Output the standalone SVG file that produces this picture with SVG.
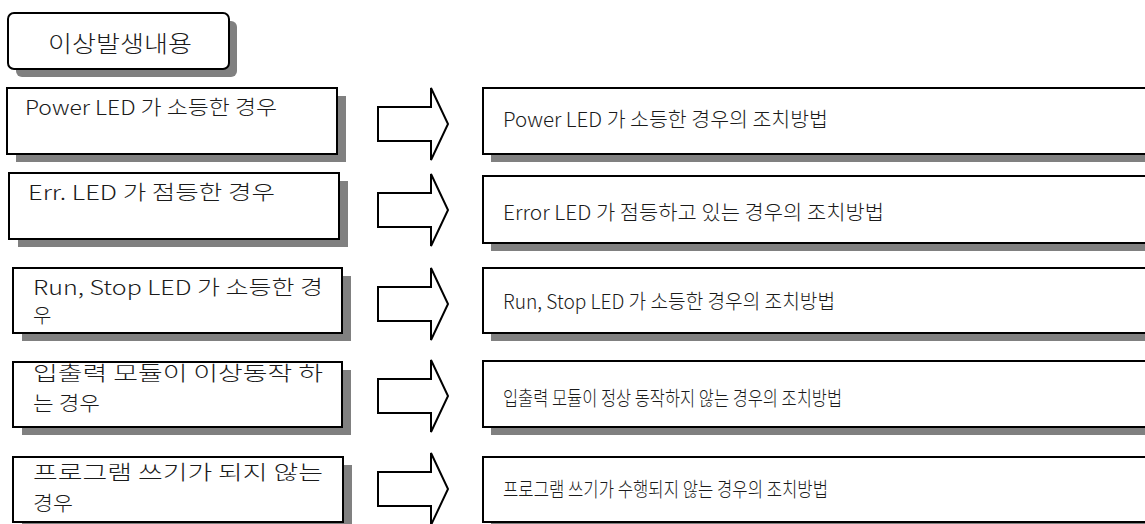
<svg xmlns="http://www.w3.org/2000/svg" width="1145" height="524" viewBox="0 0 1145 524">
<style>
.box{fill:#fff;stroke:#000;stroke-width:2}
.sh{fill:#808080}
.arrow{fill:#fff;stroke:#000;stroke-width:2;stroke-linejoin:miter}
text{font-family:"Noto Sans CJK KR","Noto Sans",sans-serif;font-size:20px;font-weight:300;fill:#1a1a1a}
.title{font-size:23px}
</style>
<rect width="1145" height="524" fill="#fff"/>
<g id="title">
<rect class="sh" x="16" y="21" width="221" height="56" rx="6"/>
<rect class="box" x="8" y="13" width="221" height="56" rx="6"/>
<text class="title" x="48" y="52" textLength="144" lengthAdjust="spacingAndGlyphs">이상발생내용</text>
</g>
<g id="case1">
<rect class="sh" x="16" y="96" width="330" height="66"/>
<rect class="box" x="7" y="88" width="330" height="66"/>
<text x="25" y="115" textLength="252" lengthAdjust="spacingAndGlyphs">Power LED 가 소등한 경우</text>
</g>
<g id="case2">
<rect class="sh" x="18" y="181" width="330" height="66"/>
<rect class="box" x="9" y="173" width="330" height="66"/>
<text x="28" y="200" textLength="247" lengthAdjust="spacingAndGlyphs">Err. LED 가 점등한 경우</text>
</g>
<g id="case3">
<rect class="sh" x="22" y="276" width="329" height="65"/>
<rect class="box" x="13" y="268" width="329" height="65"/>
<text x="33" y="295" textLength="290" lengthAdjust="spacingAndGlyphs">Run, Stop LED 가 소등한 경</text>
<text x="33" y="323">우</text>
</g>
<g id="case4">
<rect class="sh" x="22" y="370" width="329" height="65"/>
<rect class="box" x="13" y="362" width="329" height="65"/>
<text x="33" y="381" textLength="290" lengthAdjust="spacingAndGlyphs">입출력 모듈이 이상동작 하</text>
<text x="33" y="411" textLength="67" lengthAdjust="spacingAndGlyphs">는 경우</text>
</g>
<g id="case5">
<rect class="sh" x="22" y="465" width="330" height="65"/>
<rect class="box" x="13" y="457" width="330" height="65"/>
<text x="33" y="480" textLength="290" lengthAdjust="spacingAndGlyphs">프로그램 쓰기가 되지 않는</text>
<text x="33" y="511" textLength="40" lengthAdjust="spacingAndGlyphs">경우</text>
</g>
<g id="connectors">
<path class="arrow" d="M378,107 H431 V88 L448,124 L431,160 V141 H378 Z"/>
<path class="arrow" d="M378,193 H431 V174 L448,210 L431,246 V227 H378 Z"/>
<path class="arrow" d="M378,287 H431 V268 L448,304 L431,340 V321 H378 Z"/>
<path class="arrow" d="M378,379 H431 V360 L448,396 L431,432 V413 H378 Z"/>
<path class="arrow" d="M378,472 H431 V453 L448,489 L431,525 V506 H378 Z"/>
</g>
<g id="action1">
<rect class="sh" x="491" y="96" width="680" height="66"/>
<rect class="box" x="483" y="88" width="680" height="66"/>
<text x="503" y="127" textLength="325" lengthAdjust="spacingAndGlyphs">Power LED 가 소등한 경우의 조치방법</text>
</g>
<g id="action2">
<rect class="sh" x="491" y="184" width="680" height="67"/>
<rect class="box" x="483" y="176" width="680" height="67"/>
<text x="503" y="220" textLength="381" lengthAdjust="spacingAndGlyphs">Error LED 가 점등하고 있는 경우의 조치방법</text>
</g>
<g id="action3">
<rect class="sh" x="491" y="276" width="680" height="65"/>
<rect class="box" x="483" y="268" width="680" height="65"/>
<text x="503" y="309" textLength="332" lengthAdjust="spacingAndGlyphs">Run, Stop LED 가 소등한 경우의 조치방법</text>
</g>
<g id="action4">
<rect class="sh" x="491" y="369" width="680" height="66"/>
<rect class="box" x="483" y="361" width="680" height="66"/>
<text x="503" y="406" textLength="339" lengthAdjust="spacingAndGlyphs">입출력 모듈이 정상 동작하지 않는 경우의 조치방법</text>
</g>
<g id="action5">
<rect class="sh" x="491" y="465" width="680" height="65"/>
<rect class="box" x="483" y="457" width="680" height="65"/>
<text x="503" y="497" textLength="325" lengthAdjust="spacingAndGlyphs">프로그램 쓰기가 수행되지 않는 경우의 조치방법</text>
</g>
</svg>
